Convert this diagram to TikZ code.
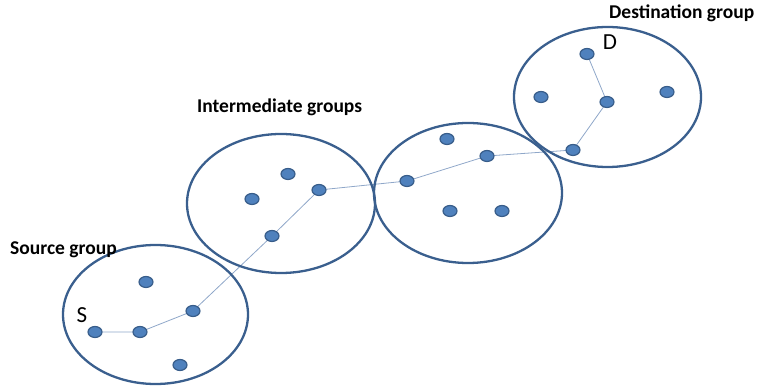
\documentclass[tikz,border=0pt]{standalone}
\usepackage{fontspec}
\setmainfont{Carlito}
\usetikzlibrary{shapes.geometric}
\pgfdeclarelayer{background}
\pgfsetlayers{background,main}
\definecolor{ringc}{HTML}{3A5F8E}
\definecolor{dotfill}{HTML}{4F81BD}
\definecolor{dotdraw}{HTML}{385D8A}
\definecolor{linkc}{HTML}{8FA7C9}
\begin{document}
\begin{tikzpicture}[x=1pt,y=-1pt,
  group/.style={draw=ringc,line width=2.3pt,ellipse,inner sep=0pt},
  host/.style={ellipse,fill=dotfill,draw=dotdraw,line width=1.2pt,minimum width=14pt,minimum height=11pt,inner sep=0pt},
  link/.style={draw=linkc,line width=0.8pt},
  glabel/.style={font=\bfseries\fontsize{19.5}{22}\selectfont,inner sep=0pt},
  endlabel/.style={font=\fontsize{23}{26}\selectfont,inner sep=0pt}]
\useasboundingbox (0,0) rectangle (758,387);
% groups
\node[group,minimum width=185pt,minimum height=139pt] (g1) at (155.5,314.5) {};
\node[group,minimum width=188pt,minimum height=139pt] (g2) at (281,203.5) {};
\node[group,minimum width=188pt,minimum height=140pt] (g3) at (468,193) {};
\node[group,minimum width=187pt,minimum height=140pt] (g4) at (607.5,97) {};
% hosts: source group
\node[host] (s0) at (95,332) {};
\node[host] (s1) at (140,332) {};
\node[host] (s2) at (193,311) {};
\node[host] (s3) at (146,282) {};
\node[host] (s4) at (180,365) {};
% intermediate 1
\node[host] (a1) at (272,236) {};
\node[host] (a2) at (319,190) {};
\node[host] (a3) at (288,174) {};
\node[host] (a4) at (252,199) {};
% intermediate 2
\node[host] (b1) at (407,181) {};
\node[host] (b2) at (487,156) {};
\node[host] (b3) at (447,139) {};
\node[host] (b4) at (450,211) {};
\node[host] (b5) at (502,211) {};
% destination
\node[host] (d1) at (573,150) {};
\node[host] (d2) at (607,102) {};
\node[host] (d3) at (587,54) {};
\node[host] (d4) at (541,97) {};
\node[host] (d5) at (667,92) {};
% path
\begin{pgfonlayer}{background}
\draw[link] (s0.center) -- (s1.center) -- (s2.center) -- (a1.center) -- (a2.center) -- (b1.center) -- (b2.center) -- (d1.center) -- (d2.center) -- (d3.center);
\end{pgfonlayer}
% labels
\node[glabel,anchor=west] (lsrc) at (10,250) {Source group};
\node[glabel,anchor=west] (lint) at (197,107) {Intermediate groups};
\node[glabel,anchor=west] (ldst) at (609,13) {Destination group};
\node[endlabel] (ls) at (82,315) {S};
\node[endlabel] (ld) at (610,42) {D};
\end{tikzpicture}
\end{document}
